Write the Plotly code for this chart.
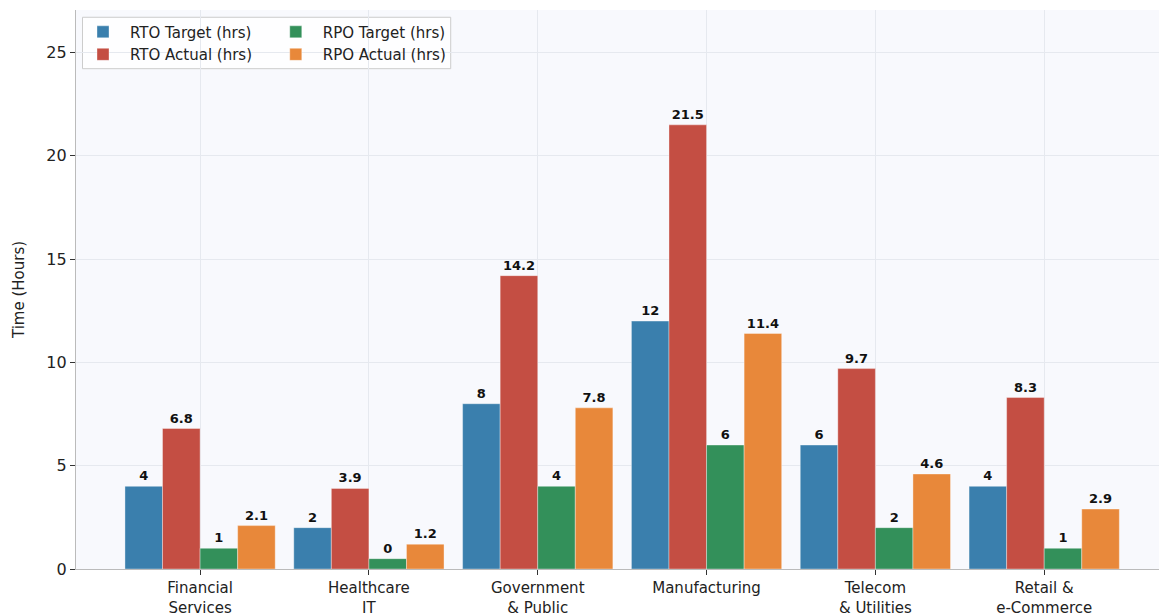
import plotly.graph_objects as go

categories = ["Financial<br>Services", "Healthcare<br>IT", "Government<br>& Public",
              "Manufacturing", "Telecom<br>& Utilities", "Retail &<br>e-Commerce"]
rto_target = [4, 2, 8, 12, 6, 4]
rto_actual = [6.8, 3.9, 14.2, 21.5, 9.7, 8.3]
rpo_target = [1, 0.5, 4, 6, 2, 1]
rpo_actual = [2.1, 1.2, 7.8, 11.4, 4.6, 2.9]

series = [
    ("RTO Target (hrs)", rto_target, "#3a7fad", "int", "legend", 1),
    ("RTO Actual (hrs)", rto_actual, "#c44e43", "dec", "legend", 2),
    ("RPO Target (hrs)", rpo_target, "#33905a", "int", "legend2", 1),
    ("RPO Actual (hrs)", rpo_actual, "#e8883a", "dec", "legend2", 2),
]

x_idx = list(range(len(categories)))
fig = go.Figure()
for name, vals, color, fmt, leg, rank in series:
    text = [f"{int(v)}" if fmt == "int" else f"{v:.1f}" for v in vals]
    fig.add_trace(go.Bar(
        x=x_idx, y=vals, name=name, marker_color=color,
        marker_line=dict(color="rgba(255,255,255,0.6)", width=0.6),
        text=text, textposition="outside", cliponaxis=False,
        textfont=dict(family="DejaVu Sans", size=13, color="#111111", weight="bold"),
        legend=leg, legendrank=rank,
    ))

legend_common = dict(
    bgcolor="rgba(0,0,0,0)", borderwidth=0,
    font=dict(family="DejaVu Sans", size=15, color="#222222"),
    orientation="v", xanchor="left", yanchor="top", tracegroupgap=1,
    itemwidth=44,
)

fig.update_layout(
    width=1159, height=616,
    margin=dict(l=76, r=0, t=10, b=47),
    paper_bgcolor="white", plot_bgcolor="#f8f9fd",
    barmode="group", bargap=0.11, bargroupgap=0,
    font=dict(family="DejaVu Sans", color="#222222"),
    legend=dict(**legend_common, x=0.0, y=0.99),
    legend2=dict(**legend_common, x=0.178, y=0.99),
    showlegend=True,
    shapes=[dict(type="rect", xref="paper", yref="paper", x0=0.006, x1=0.346,
                 y0=0.895, y1=0.987, line=dict(color="#cccccc", width=1),
                 fillcolor="rgba(255,255,255,0.8)", layer="below")],
)
fig.update_xaxes(
    tickmode="array", tickvals=x_idx, ticktext=categories,
    range=[-0.735, 5.68], showgrid=True, gridcolor="#e6e9ef", gridwidth=1,
    showline=True, linecolor="#bbbbbb", linewidth=1.2,
    ticks="outside", ticklen=5, tickcolor="#333333",
    tickfont=dict(family="DejaVu Sans", size=15, color="#222222"), zeroline=False,
)
fig.update_yaxes(
    range=[0, 27.06], tickvals=[0, 5, 10, 15, 20, 25],
    showgrid=True, gridcolor="#e6e9ef", gridwidth=1,
    showline=True, linecolor="#bbbbbb", linewidth=1.2,
    ticks="outside", ticklen=5, tickcolor="#333333",
    tickfont=dict(family="DejaVu Sans", size=16, color="#222222"),
    title=dict(text="Time (Hours)", font=dict(family="DejaVu Sans", size=15, color="#222222"), standoff=18),
    zeroline=False,
)

fig.write_html("out.html")
